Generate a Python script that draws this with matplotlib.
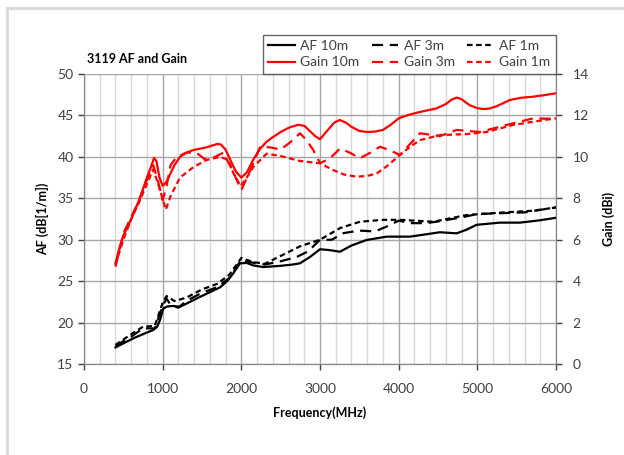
import matplotlib.pyplot as plt
import numpy as np
from matplotlib.lines import Line2D

plt.rcParams['font.family'] = ['Lato', 'DejaVu Sans']

# ---- data ----
f_g10 = [400, 450, 500, 600, 700, 800, 850, 890, 920, 960, 1000, 1050, 1100, 1150, 1220, 1300,
         1390, 1560, 1690, 1740, 1800, 1860, 1930, 2000, 2070, 2150, 2230, 2320, 2400, 2500,
         2600, 2720, 2800, 2870, 2940, 3000, 3100, 3180, 3250, 3330, 3400, 3500, 3600, 3700,
         3800, 3900, 4000, 4120, 4250, 4480, 4600, 4680, 4740, 4800, 4900, 5000, 5075, 5150,
         5250, 5410, 5550, 5700, 5850, 6000]
gain_10m = [4.85, 5.6, 6.2, 7.0, 7.9, 9.0, 9.5, 9.95, 9.8, 9.0, 8.6, 8.8, 9.2, 9.6, 10.0, 10.2,
            10.33, 10.46, 10.62, 10.6, 10.35, 9.85, 9.3, 9.0, 9.25, 9.85, 10.35, 10.73, 10.95, 11.2,
            11.4, 11.55, 11.5, 11.25, 11.0, 10.85, 11.3, 11.65, 11.78, 11.65, 11.45, 11.25, 11.2, 11.22,
            11.3, 11.55, 11.86, 12.02, 12.15, 12.34, 12.55, 12.78, 12.86, 12.78, 12.5, 12.35, 12.31, 12.33,
            12.45, 12.74, 12.85, 12.9, 12.98, 13.07]

f_g3 = [400, 500, 600, 700, 800, 880, 950, 1000, 1050, 1100, 1180, 1300, 1430, 1530, 1640,
        1770, 1880, 2000, 2120, 2240, 2380, 2500, 2620, 2745, 2830, 2914, 3000, 3120, 3254,
        3380, 3508, 3640, 3762, 3900, 4016, 4140, 4271, 4525, 4737, 5033, 5372, 5711, 6000]
gain_3m = [4.7, 6.3, 7.1, 7.9, 8.9, 9.6, 8.7, 7.9, 8.6, 9.6, 10.0, 10.2, 10.2, 9.9, 9.95,
           10.2, 9.4, 8.4, 9.4, 10.5, 10.45, 10.35, 10.7, 11.14, 10.8, 10.33, 9.7, 9.9, 10.4,
           10.2, 9.93, 10.2, 10.49, 10.3, 10.09, 10.6, 11.14, 11.0, 11.3, 11.2, 11.54, 11.86, 11.83]

f_g1 = [400, 500, 600, 700, 800, 880, 950, 1040, 1100, 1220, 1390, 1560, 1730, 1835, 1900, 1990,
        2070, 2150, 2320, 2491, 2745, 3000, 3170, 3300, 3466, 3600, 3720, 3850, 4016, 4150, 4271,
        4525, 4864, 5118, 5457, 5750, 6000]
gain_1m = [4.8, 6.0, 7.0, 7.8, 8.7, 9.4, 8.6, 7.45, 8.1, 9.0, 9.5, 9.85, 10.0, 9.85, 9.2, 8.6,
           9.0, 9.5, 10.15, 10.05, 9.8, 9.69, 9.36, 9.15, 9.04, 9.08, 9.2, 9.55, 10.09, 10.5, 10.81,
           11.05, 11.1, 11.2, 11.54, 11.72, 11.86]

f_a10 = [400, 627, 800, 881, 930, 966, 1008, 1060, 1135, 1220, 1474, 1729, 1820, 1898, 1983,
         2068, 2150, 2280, 2500, 2650, 2745, 2870, 3000, 3120, 3254, 3400, 3593, 3847, 4144,
         4525, 4737, 4860, 4991, 5287, 5541, 5800, 6000]
af_10m = [17.0, 18.1, 18.8, 19.1, 19.5, 20.3, 21.7, 21.95, 22.0, 21.9, 23.1, 24.25, 25.0, 25.95, 27.15,
          27.2, 26.9, 26.7, 26.85, 27.0, 27.15, 27.9, 28.85, 28.75, 28.55, 29.3, 29.97, 30.37, 30.37,
          30.9, 30.77, 31.2, 31.8, 32.06, 32.06, 32.35, 32.65]

f_a3 = [400, 600, 750, 900, 1000, 1050, 1100, 1200, 1300, 1500, 1700, 1850, 2000, 2100, 2300,
        2500, 2700, 2850, 3000, 3150, 3300, 3500, 3700, 3850, 4000, 4150, 4350, 4500, 4800, 5000,
        5300, 5600, 5800, 6000]
af_3m = [17.2, 18.3, 19.3, 19.3, 22.0, 22.9, 22.1, 21.8, 22.6, 23.6, 24.3, 25.4, 27.6, 27.3, 27.0,
         27.4, 27.9, 28.6, 30.0, 30.0, 30.8, 31.1, 31.0, 31.6, 32.3, 32.0, 32.0, 32.2, 32.7, 33.1,
         33.2, 33.3, 33.6, 33.9]

f_a1 = [400, 600, 750, 900, 1000, 1050, 1150, 1300, 1500, 1700, 1850, 2000, 2150, 2300, 2533,
        2745, 3000, 3254, 3508, 3800, 4016, 4440, 4864, 5287, 5711, 6000]
af_1m = [17.3, 18.6, 19.5, 19.6, 22.4, 23.2, 22.6, 23.0, 24.0, 24.7, 25.8, 27.8, 27.3, 27.1, 28.2,
         29.2, 30.0, 31.4, 32.17, 32.4, 32.4, 32.17, 32.98, 33.26, 33.5, 33.9]

# ---- figure ----
fig = plt.figure(figsize=(6.24, 4.55), dpi=100, facecolor='white')
ax = fig.add_axes([84/624, 1-364/455, 472/624, 290/455])
ax2 = ax.twinx()

tick_col = '#404040'
grid_major = '#a6a6a6'
grid_minor = '#d9d9d9'

ax.set_xlim(0, 6000)
ax.set_ylim(15, 50)
ax.set_xticks(np.arange(0, 6001, 1000))
ax.set_xticks(np.arange(0, 6001, 200), minor=True)
ax.set_yticks(np.arange(15, 51, 5))
ax.grid(which='major', color=grid_major, linewidth=1.0)
ax.grid(which='minor', axis='x', color=grid_minor, linewidth=1.0)
ax.tick_params(axis='x', which='minor', length=0)
ax.tick_params(axis='both', which='major', labelsize=10, colors=tick_col, length=4, width=1)
ax.tick_params(axis='x', which='major', pad=10)
ax.set_axisbelow(True)

for a in (ax, ax2):
    a.spines['top'].set_visible(False)
    for s in ['left', 'right', 'bottom']:
        a.spines[s].set_color('#868686')

ax2.set_ylim(0, 14)
ax2.set_yticks(np.arange(0, 15, 2))
ax2.tick_params(axis='y', labelsize=10, colors=tick_col, length=4, width=1, pad=8)

# AF curves (left axis)
ax.plot(f_a10, af_10m, color='black', lw=1.6, zorder=3)
ax.plot(f_a3, af_3m, color='black', lw=1.6, dashes=(5, 3), zorder=3)
ax.plot(f_a1, af_1m, color='black', lw=1.6, dashes=(2.5, 1.6), zorder=3)

# Gain curves (right axis)
ax2.plot(f_g10, gain_10m, color='#ff0000', lw=1.6)
ax2.plot(f_g3, gain_3m, color='#ff0000', lw=1.6, dashes=(5, 3))
ax2.plot(f_g1, gain_1m, color='#ff0000', lw=1.6, dashes=(2.5, 1.6))

ax.set_xlabel('Frequency(MHz)', fontsize=9, fontweight='bold', labelpad=8)
ax.set_ylabel('AF (dB[1/m])', fontsize=9, fontweight='bold', labelpad=6)
ax2.set_ylabel('Gain (dBi)', fontsize=9, fontweight='bold', labelpad=10)

fig.text(87/624, 1-59/455, '3119 AF and Gain', fontsize=9, fontweight='bold', va='center')

# legend (Excel style: row-wise order)
handles = [
    Line2D([0], [0], color='black', lw=1.6, label='AF 10m'),
    Line2D([0], [0], color='#ff0000', lw=1.6, label='Gain 10m'),
    Line2D([0], [0], color='black', lw=1.6, dashes=(5, 3), label='AF 3m'),
    Line2D([0], [0], color='#ff0000', lw=1.6, dashes=(5, 3), label='Gain 3m'),
    Line2D([0], [0], color='black', lw=1.6, dashes=(2.5, 1.6), label='AF 1m'),
    Line2D([0], [0], color='#ff0000', lw=1.6, dashes=(2.5, 1.6), label='Gain 1m'),
]
leg = fig.legend(handles=handles, ncol=3, loc='lower right',
                 bbox_to_anchor=(556/624, 1-74/455), fontsize=10,
                 frameon=True, fancybox=False, edgecolor='#404040',
                 handlelength=1.9, columnspacing=0.9, borderpad=0.4,
                 labelspacing=0.3, handletextpad=0.4, borderaxespad=0)
leg.get_frame().set_linewidth(1.0)
for t in leg.get_texts():
    t.set_color(tick_col)

# outer frame (only top and left edges visible)
fig.add_artist(Line2D([7/624, 7/624], [0, 1-8/455], color='#d9d9d9', lw=2))
fig.add_artist(Line2D([7/624, 1], [1-8/455, 1-8/455], color='#d9d9d9', lw=2))

plt.savefig('out.png', dpi=100, facecolor='white')
